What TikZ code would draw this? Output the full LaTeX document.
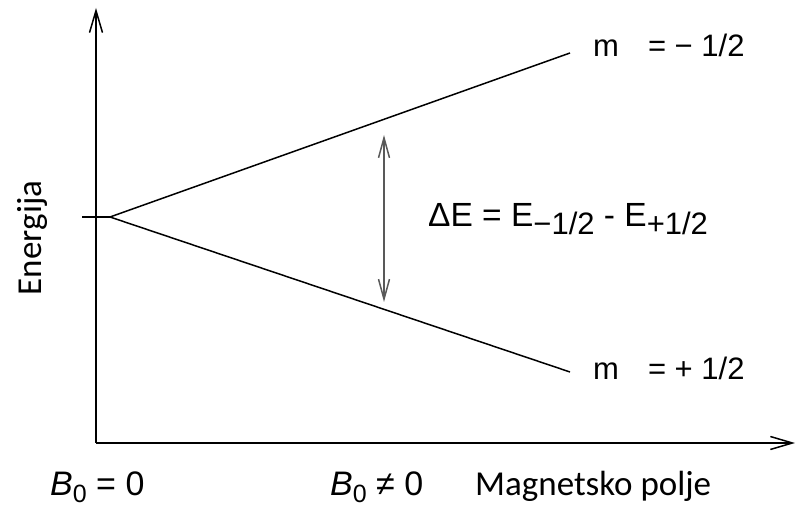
\documentclass[tikz,border=0pt]{standalone}
\usepackage{fontspec}
\setmainfont{Liberation Sans}
\newfontfamily\calibri{Carlito}
\usetikzlibrary{arrows.meta,positioning}

\newcommand{\lowsub}[1]{\raisebox{-8pt}{\fontsize{31}{35}\selectfont #1}}

\begin{document}
\begin{tikzpicture}[x=1pt,y=1pt,
    axis/.style={line width=1.5pt,-{Straight Barb[length=22pt,width=13pt,line width=1.5pt]}},
    level/.style={line width=1.5pt},
    gap/.style={line width=1.5pt,gray!70!black,
        {Straight Barb[length=20pt,width=11pt,line width=1.5pt]}-{Straight Barb[length=20pt,width=11pt,line width=1.5pt]}},
    lbl/.style={font=\fontsize{31}{35}\selectfont,inner sep=0pt,anchor=base west},
    clbl/.style={font=\calibri\fontsize{35}{40}\selectfont,inner sep=0pt}]
\useasboundingbox (0,0) rectangle (797,510);
% axes
\coordinate (O) at (96,67);
\coordinate (ytop) at (96,502);
\coordinate (xend) at (795,67);
\draw[axis] (O) -- (ytop);
\draw[axis] (O) -- (xend);
% zero field level and splitting
\coordinate (tick) at (82,293);
\coordinate (S) at (110,293);
\coordinate (up) at (570,457);
\coordinate (lo) at (570,138);
\draw[level] (tick) -- (S);
\draw[level] (S) -- (up);
\draw[level] (S) -- (lo);
\node[lbl] (mup) at (593,453) {m\hspace{29pt}= \textminus\ 1/2};
\node[lbl] (mlo) at (593,130) {m\hspace{29pt}= + 1/2};
% energy gap
\coordinate (gtop) at (384,375);
\coordinate (gbot) at (384,208);
\draw[gap] (gbot) -- (gtop);
\node[lbl,font=\fontsize{33.5}{37}\selectfont] (dE) at (428,283)
    {ΔE = E\lowsub{\textminus1/2} - E\lowsub{+1/2}};
% axis labels
\node[clbl,rotate=90] (en) at (32,272) {Energija};
\node[lbl,font=\fontsize{34}{38}\selectfont] (b0) at (50,14)
    {\textit{B}\raisebox{-7pt}{\fontsize{25}{28}\selectfont 0} = 0};
\node[lbl,font=\fontsize{34}{38}\selectfont] (b1) at (330,14)
    {\textit{B}\raisebox{-7pt}{\fontsize{25}{28}\selectfont 0} ≠ 0};
\node[clbl,anchor=base west] (mag) at (475,14) {Magnetsko polje};
\end{tikzpicture}
\end{document}
